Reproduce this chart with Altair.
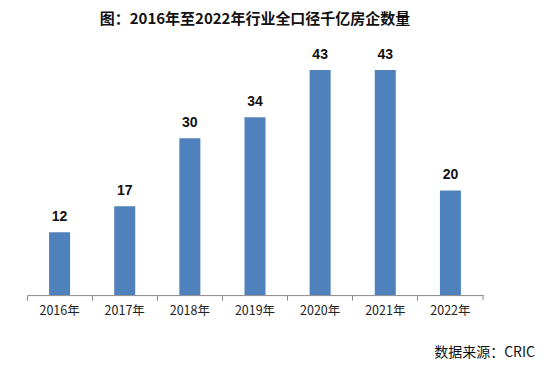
import altair as alt
import pandas as pd

years = ["2016年", "2017年", "2018年", "2019年", "2020年", "2021年", "2022年"]
counts = [12, 17, 30, 34, 43, 43, 20]
title_text = "图：2016年至2022年行业全口径千亿房企数量"
source_text = "数据来源：CRIC"

df = pd.DataFrame({"year": years, "count": counts})

W = 456
H = 261.6

x_enc = alt.X("year:N", sort=years, title=None,
              scale=alt.Scale(paddingInner=0, paddingOuter=0),
              axis=alt.Axis(labelAngle=0, labelFont="Noto Sans CJK SC", labelFontSize=12.5,
                            labelColor="#222222", domainColor="#898989", tickColor="#898989",
                            tickSize=5, bandPosition=0, labelPadding=4, grid=False))
y_enc = alt.Y("count:Q", scale=alt.Scale(domain=[0, 50]), axis=None)

bars = alt.Chart(df).mark_bar(size=21, color="#4F81BD").encode(x=x_enc, y=y_enc)

labels = alt.Chart(df).mark_text(font="Liberation Sans", fontSize=14, fontWeight="bold",
                                 color="#111111", baseline="bottom", dy=-8).encode(
    x=alt.X("year:N", sort=years), y="count:Q", text="count:Q")

end_tick = alt.Chart(pd.DataFrame({"t": [0]})).mark_rule(color="#898989").encode(
    x=alt.value(W), y=alt.value(H), y2=alt.value(H + 5))

source = alt.Chart(pd.DataFrame({"s": [source_text]})).mark_text(
    font="Noto Sans CJK SC", fontSize=14, align="right", baseline="middle", color="#111111").encode(
    x=alt.value(508), y=alt.value(319.5), text="s:N")

chart = alt.layer(bars, labels, end_tick, source).properties(
    width=W, height=H,
    title=alt.TitleParams(title_text, font="Noto Sans CJK SC", fontSize=15, fontWeight="bold",
                          color="#111111", offset=6, anchor="middle"),
    autosize=alt.AutoSizeParams(type="none"),
    padding={"left": 19, "top": 25.5, "right": 58, "bottom": 66},
).configure_view(stroke=None)

chart.save("out.html", embed_options={"renderer": "svg", "actions": False})
